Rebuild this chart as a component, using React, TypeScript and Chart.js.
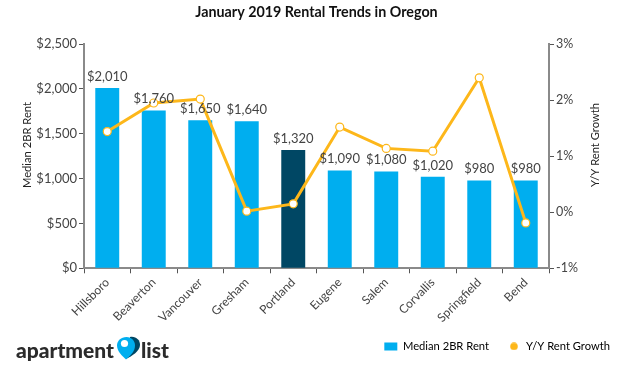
import React, { useEffect, useRef } from "react";
import { Chart, registerables } from "chart.js";

Chart.register(...registerables);

const categories = ["Hillsboro", "Beaverton", "Vancouver", "Gresham", "Portland", "Eugene", "Salem", "Corvallis", "Springfield", "Bend"];
const rents = [2010, 1760, 1650, 1640, 1320, 1090, 1080, 1020, 980, 980];
const growth = [1.44, 1.95, 2.02, 0.02, 0.15, 1.52, 1.14, 1.09, 2.4, -0.19];
const barColors = ["#00aeef", "#00aeef", "#00aeef", "#00aeef", "#004764", "#00aeef", "#00aeef", "#00aeef", "#00aeef", "#00aeef"];
const titleText = "January 2019 Rental Trends in Oregon";
const leftTitle = "Median 2BR Rent";
const rightTitle = "Y/Y Rent Growth";

const FONT = "Lato, sans-serif";
const TEXT = "#444444";
const AXIS = "#8a8a8a";

const money = (v: number) => "$" + v.toLocaleString("en-US");

const circleSwatch = () => {
  const c = document.createElement("canvas");
  c.width = 8;
  c.height = 8;
  const g = c.getContext("2d")!;
  g.fillStyle = "#fdb71a";
  g.beginPath();
  g.arc(4, 4, 3.8, 0, Math.PI * 2);
  g.fill();
  return c;
};

const axisTitle = (ctx: any, text: string, x: number, y: number) => {
  ctx.save();
  ctx.font = `11.2px ${FONT}`;
  ctx.fillStyle = "#222";
  ctx.textAlign = "center";
  ctx.textBaseline = "middle";
  ctx.translate(x, y);
  ctx.rotate(-Math.PI / 2);
  ctx.fillText(text, 0, 0);
  ctx.restore();
};

const labelsPlugin = {
  id: "extras",
  afterLayout(chart: any) {
    chart.legend.right += 7.5;
  },
  afterDatasetsDraw(chart: any) {
    const { ctx } = chart;
    const meta = chart.getDatasetMeta(1);
    ctx.save();
    ctx.font = `13px ${FONT}`;
    ctx.fillStyle = TEXT;
    ctx.textAlign = "center";
    ctx.textBaseline = "bottom";
    meta.data.forEach((bar: any, i: number) => {
      ctx.fillText(money(rents[i]), bar.x, bar.y - 5);
    });
    ctx.restore();
  },
  afterDraw(chart: any) {
    axisTitle(chart.ctx, leftTitle, 27, 145);
    axisTitle(chart.ctx, rightTitle, 595, 145);
  },
};

export default function App() {
  const ref = useRef<HTMLCanvasElement>(null);
  useEffect(() => {
    const swatch = circleSwatch();
    const chart = new Chart(ref.current!, {
      type: "bar",
      data: {
        labels: categories,
        datasets: [
          {
            type: "line",
            label: rightTitle,
            data: growth,
            yAxisID: "y1",
            borderColor: "#fdb71a",
            backgroundColor: "#fdb71a",
            borderWidth: 3,
            tension: 0,
            pointRadius: 4,
            pointBorderWidth: 1.2,
            pointBackgroundColor: "#ffffff",
            pointBorderColor: "#fdb71a",
            order: 1,
          },
          {
            type: "bar",
            label: leftTitle,
            data: rents,
            yAxisID: "y",
            backgroundColor: barColors,
            barPercentage: 0.515,
            categoryPercentage: 1,
            order: 2,
          },
        ] as any,
      },
      plugins: [labelsPlugin],
      options: {
        animation: false,
        responsive: false,
        layout: { padding: { right: 0, top: 0, left: 0, bottom: 5 } },
        plugins: {
          title: {
            display: true,
            text: titleText,
            fullSize: false,
            color: "#111",
            font: { family: FONT, size: 14.3, weight: "bold" },
            padding: { top: 4, bottom: 23 },
          },
          legend: {
            position: "bottom",
            align: "end",
            labels: {
              usePointStyle: true,
              pointStyleWidth: 13,
              boxWidth: 13,
              boxHeight: 8,
              padding: 18.5,
              color: "#333",
              font: { family: FONT, size: 11.2 },
              generateLabels: () => [
                { text: leftTitle, fillStyle: "#00aeef", strokeStyle: "#00aeef", lineWidth: 0, pointStyle: "rect", datasetIndex: 1 },
                { text: rightTitle, fillStyle: "#fdb71a", strokeStyle: "#fdb71a", lineWidth: 0, pointStyle: swatch, datasetIndex: 0 },
              ],
            },
          },
          tooltip: { enabled: false },
        },
        scales: {
          x: {
            afterFit(s: any) { s.height = 54; },
            border: { color: AXIS, width: 2 },
            grid: { drawOnChartArea: false, drawTicks: true, tickLength: 5, color: "#555" },
            ticks: { color: TEXT, maxRotation: 45, minRotation: 45, autoSkip: false, padding: 2, font: { family: FONT, size: 12 } },
          },
          y: {
            position: "left",
            min: 0,
            max: 2500,
            afterFit(s: any) { s.width = 84; },
            border: { color: AXIS, width: 2 },
            grid: { drawOnChartArea: false, drawTicks: true, tickLength: 5, color: "#555" },
            ticks: { stepSize: 500, color: TEXT, padding: 2, callback: (v: any) => money(v), font: { family: FONT, size: 13 } },
          },
          y1: {
            position: "right",
            min: -1,
            max: 3,
            afterFit(s: any) { s.width = 72; },
            border: { color: AXIS, width: 2 },
            grid: { drawOnChartArea: false, drawTicks: true, tickLength: 5, color: "#555" },
            ticks: { stepSize: 1, color: TEXT, padding: 2, callback: (v: any) => v + "%", font: { family: FONT, size: 12.5 } },
          },
        },
      } as any,
    });
    return () => chart.destroy();
  }, []);

  return (
    <div style={{ position: "absolute", left: 0, top: 0, width: 621, height: 367, background: "#fff", overflow: "hidden" }}>
      <canvas ref={ref} width={621} height={367} style={{ display: "block" }} />
      <span style={{ position: "absolute", left: 16, top: 337, font: `900 21px/26px ${FONT}`, color: "#2b2b2b" }}>apartment</span>
      <span style={{ position: "absolute", left: 141, top: 337, font: `900 21px/26px ${FONT}`, color: "#2b2b2b" }}>list</span>
      <svg style={{ position: "absolute", left: 116, top: 336 }} width="26" height="25" viewBox="0 0 26 25">
        <path d="M14 1 C20 0 24 4 24 9 C24 15 16 20 10 23 Z" fill="#004764" />
        <path d="M10.5 1 C5 1 1 5 1 9.5 C1 15 6 20 10 23.5 C15 19 19 15 19 9.5 C19 5 15.5 1 10.5 1 Z" fill="#00aeef" />
        <circle cx="8.5" cy="7.5" r="3.6" fill="#fff" />
      </svg>
    </div>
  );
}
